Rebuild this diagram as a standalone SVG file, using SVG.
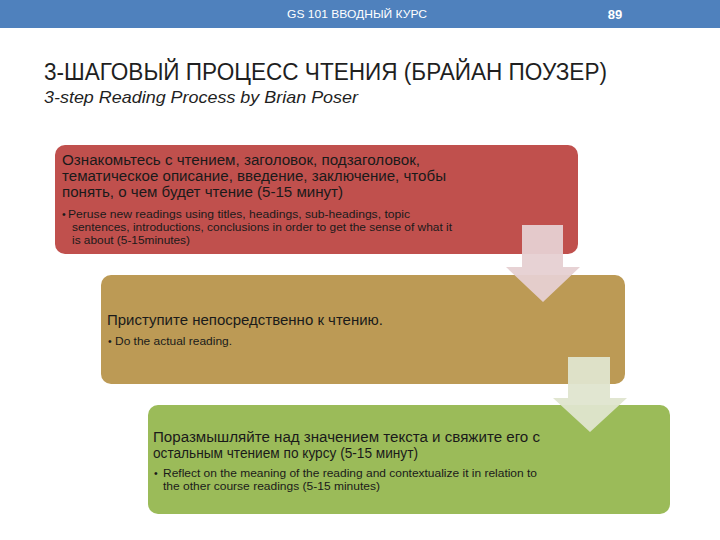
<svg xmlns="http://www.w3.org/2000/svg" width="720" height="540" viewBox="0 0 720 540">
<style>
  .hdr { font-family: "Liberation Sans", Arial, sans-serif; fill: #ffffff; }
  .ttl { font-family: "Liberation Sans", Arial, sans-serif; fill: #1f1f1f; }
  .ru { font-family: "Liberation Sans", Arial, sans-serif; font-size: 14px; fill: #1a1a1a; }
  .en { font-family: "Liberation Sans", Arial, sans-serif; font-size: 10.5px; fill: #1a1a1a; }
  .box { stroke: none; }
</style>
<rect x="0" y="0" width="720" height="540" fill="#ffffff"/>
<g id="header">
  <rect x="0" y="0" width="720" height="28" fill="#4f81bd"/>
  <text class="hdr" x="357" y="18" font-size="11" text-anchor="middle" textLength="140" lengthAdjust="spacingAndGlyphs">GS 101 ВВОДНЫЙ КУРС</text>
  <text class="hdr" x="615" y="19" font-size="13" font-weight="bold" text-anchor="middle">89</text>
</g>
<g id="title">
  <text class="ttl" x="44" y="80" font-size="23" textLength="563" lengthAdjust="spacingAndGlyphs">3-ШАГОВЫЙ ПРОЦЕСС ЧТЕНИЯ (БРАЙАН ПОУЗЕР)</text>
  <text class="ttl" x="44" y="103" font-size="17" font-style="italic" textLength="314" lengthAdjust="spacingAndGlyphs">3-step Reading Process by Brian Poser</text>
</g>
<g id="step1">
  <rect class="box" x="55" y="145" width="523" height="109" rx="10" fill="#c0504d"/>
  <text class="ru" x="62" y="165" textLength="358" lengthAdjust="spacingAndGlyphs">Ознакомьтесь с чтением, заголовок, подзаголовок,</text>
  <text class="ru" x="62" y="181" textLength="384" lengthAdjust="spacingAndGlyphs">тематическое описание, введение, заключение, чтобы</text>
  <text class="ru" x="62" y="197" textLength="281" lengthAdjust="spacingAndGlyphs">понять, о чем будет чтение (5-15 минут)</text>
  <text class="en" x="62" y="218">•</text>
  <text class="en" x="68" y="218" textLength="342" lengthAdjust="spacingAndGlyphs">Peruse new readings using titles, headings, sub-headings, topic</text>
  <text class="en" x="72" y="231" textLength="380" lengthAdjust="spacingAndGlyphs">sentences, introductions, conclusions in order to get the sense of what it</text>
  <text class="en" x="72" y="244" textLength="118" lengthAdjust="spacingAndGlyphs">is about (5-15minutes)</text>
</g>
<g id="step2">
  <rect class="box" x="101" y="275" width="524" height="109" rx="10" fill="#bc9a55"/>
  <text class="ru" x="107" y="325" textLength="276" lengthAdjust="spacingAndGlyphs">Приступите непосредственно к чтению.</text>
  <text class="en" x="108" y="345">•</text>
  <text class="en" x="115" y="345" textLength="117" lengthAdjust="spacingAndGlyphs">Do the actual reading.</text>
</g>
<g id="step3">
  <rect class="box" x="148" y="405" width="522" height="109" rx="10" fill="#9bbb59"/>
  <text class="ru" x="153" y="442" textLength="387" lengthAdjust="spacingAndGlyphs">Поразмышляйте над значением текста и свяжите его с</text>
  <text class="ru" x="153" y="458" textLength="265" lengthAdjust="spacingAndGlyphs">остальным чтением по курсу (5-15 минут)</text>
  <text class="en" x="154" y="477">•</text>
  <text class="en" x="163" y="477" textLength="374" lengthAdjust="spacingAndGlyphs">Reflect on the meaning of the reading and contextualize it in relation to</text>
  <text class="en" x="163" y="490" textLength="217" lengthAdjust="spacingAndGlyphs">the other course readings (5-15 minutes)</text>
</g>
<g id="connectors">
  <polygon points="522,225 563,225 563,267 580,267 543,302 506,267 522,267" fill="#e6d0d2" fill-opacity="0.95"/>
  <polygon points="568,357 610,357 610,398 627,398 590,432 553,398 568,398" fill="#dfe5cf" fill-opacity="0.95"/>
</g>
</svg>
